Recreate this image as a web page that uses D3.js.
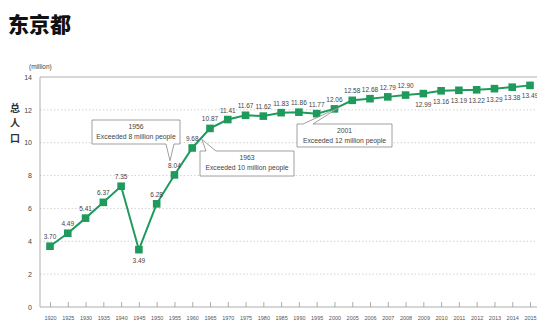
<!DOCTYPE html>
<html><head><meta charset="utf-8">
<script src="https://cdn.jsdelivr.net/npm/d3@7"></script>
<style>
html,body{margin:0;padding:0;background:#fff;}
svg{display:block;}
text{font-family:"Liberation Sans",Arial,sans-serif;}
</style></head>
<body>
<script>
const years = ["1920","1925","1930","1935","1940","1945","1950","1955","1960","1965","1970","1975","1980","1985","1990","1995","2000","2005","2006","2007","2008","2009","2010","2011","2012","2013","2014","2015"];
const population = [3.70,4.49,5.41,6.37,7.35,3.49,6.28,8.04,9.68,10.87,11.41,11.67,11.62,11.83,11.86,11.77,12.06,12.58,12.68,12.79,12.90,12.99,13.16,13.19,13.22,13.29,13.38,13.49];
const labelBelow = ["1945","2009","2010","2011","2012","2013","2014","2015"];
const yTicks = [0,2,4,6,8,10,12,14];
const annotations = [
  {year:"1956", text:"Exceeded 8 million people"},
  {year:"1963", text:"Exceeded 10 million people"},
  {year:"2001", text:"Exceeded 12 million people"}
];

const W = 537, H = 326;
const svg = d3.select("body").append("svg").attr("width", W).attr("height", H);
const green = "#1f9a5c";

const x = d3.scalePoint().domain(years).range([50, 530]);
const y = d3.scaleLinear().domain([0,14]).range([307, 77]);

// title
svg.append("text").attr("x", 8).attr("y", 32)
  .style("font-family", "'Noto Sans CJK SC',sans-serif").style("font-weight", "900")
  .style("font-size", "21px").attr("fill", "#111").text("东京都");

// y-axis title (vertical)
const yt = ["总","人","口"];
svg.append("g").selectAll("text").data(yt).join("text")
  .attr("x", 15).attr("y", (d,i) => 112 + i*15)
  .attr("text-anchor", "middle")
  .style("font-family", "'Noto Sans CJK SC',sans-serif").style("font-weight", "700")
  .style("font-size", "10px").attr("fill", "#333").text(d => d);

svg.append("text").attr("x", 29).attr("y", 69).style("font-size", "6.5px").attr("fill", "#444").text("(million)");

// gridlines
svg.append("g").selectAll("line").data(yTicks.filter(d => d > 0 && d < 14)).join("line")
  .attr("x1", 40).attr("x2", 537).attr("y1", d => y(d)).attr("y2", d => y(d))
  .attr("stroke", "#c8c8c8").attr("stroke-width", 0.8).attr("stroke-dasharray", "1.5,2");

// frame
svg.append("line").attr("x1", 40).attr("x2", 537).attr("y1", y(14)).attr("y2", y(14)).attr("stroke", "#999").attr("stroke-width", 0.8);
svg.append("line").attr("x1", 40).attr("x2", 40).attr("y1", y(14)).attr("y2", y(0)).attr("stroke", "#999").attr("stroke-width", 0.8);

// y axis
const yAxis = d3.axisLeft(y).tickValues(yTicks).tickSize(0).tickPadding(8);
const gy = svg.append("g").attr("transform", "translate(40,0)").call(yAxis);
gy.select(".domain").remove();
gy.selectAll("text").style("font-size", "7px").attr("fill", "#444").style("font-family", "'Liberation Sans',Arial,sans-serif");

// x axis
const xAxis = d3.axisBottom(x).tickSize(-5).tickPadding(9);
const gx = svg.append("g").attr("transform", `translate(0,${y(0)})`).call(xAxis);
gx.select(".domain").attr("d", `M40,0H537`).attr("stroke", "#999").attr("stroke-width", 0.8);
gx.selectAll(".tick line").attr("stroke", "#999").attr("stroke-width", 0.8);
gx.selectAll("text").style("font-size", "5.5px").attr("fill", "#555").style("font-family", "'Liberation Sans',Arial,sans-serif");

// line
const data = years.map((yr,i) => ({year: yr, v: population[i]}));
svg.append("path").datum(data)
  .attr("d", d3.line().x(d => x(d.year)).y(d => y(d.v)))
  .attr("fill", "none").attr("stroke", green).attr("stroke-width", 2);

svg.append("g").selectAll("rect").data(data).join("rect")
  .attr("x", d => x(d.year) - 3.8).attr("y", d => y(d.v) - 3.8)
  .attr("width", 7.6).attr("height", 7.6).attr("fill", green);

// value labels
svg.append("g").selectAll("text").data(data).join("text")
  .attr("x", d => x(d.year)).attr("y", d => labelBelow.includes(d.year) ? y(d.v) + 13 : y(d.v) - 7)
  .attr("text-anchor", "middle").style("font-size", "6.5px").attr("fill", "#444")
  .text(d => d.v.toFixed(2));

// annotations
function xYear(yr){
  const yv = +yr;
  const lo = Math.floor(yv/5)*5, hi = lo + 5;
  const xl = x(String(lo)), xh = x(String(hi));
  return xl + (xh - xl) * (yv - lo) / 5;
}
function callout(a, bx, by, bw, bh, tip, side){
  const g = svg.append("g");
  let pts;
  if (side === "bottom") {
    const p1 = bx + bw - 14, p2 = bx + bw - 6;
    pts = [[bx,by],[bx+bw,by],[bx+bw,by+bh],[p2,by+bh],tip,[p1,by+bh],[bx,by+bh]];
  } else {
    const p1 = bx + 6, p2 = bx + 16;
    pts = [[bx,by],[p1,by],tip,[p2,by],[bx+bw,by],[bx+bw,by+bh],[bx,by+bh]];
  }
  g.append("path").attr("d", "M" + pts.map(p => p.join(",")).join("L") + "Z")
    .attr("fill", "#fff").attr("stroke", "#888").attr("stroke-width", 0.8);
  g.append("text").attr("x", bx + bw/2).attr("y", by + 9).attr("text-anchor", "middle")
    .style("font-size", "6.8px").attr("fill", "#444").text(a.year);
  g.append("text").attr("x", bx + bw/2).attr("y", by + 19).attr("text-anchor", "middle")
    .style("font-size", "6.8px").attr("fill", "#444").text(a.text);
}
const a0x = xYear("1956"), a1x = xYear("1963"), a2x = xYear("2001");
callout(annotations[0], 92, 120, 88, 24, [a0x - 8, y(8.9)], "bottom");
callout(annotations[1], 200, 151, 94, 25, [a1x - 1, y(10.2)], "top");
callout(annotations[2], 297, 124, 95, 23, [a2x + 1, y(12.15)], "top");
</script>
</body></html>
